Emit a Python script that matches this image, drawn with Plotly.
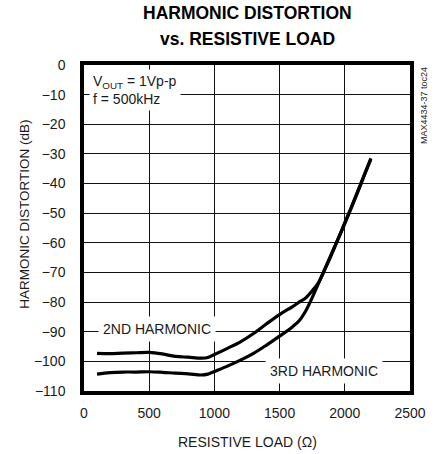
import plotly.graph_objects as go

# ---- data ----
load_x = [100, 200, 300, 400, 500, 600, 700, 800, 900, 950, 1000, 1100, 1200,
          1300, 1400, 1500, 1600, 1650, 1700, 1750, 1800, 1850, 1900, 1950,
          2000, 2050, 2100, 2150, 2200]
second_harm = [-97.3, -97.4, -97.2, -97.1, -97.0, -97.5, -98.3, -98.6, -98.9, -98.7,
               -97.7, -95.6, -93.4, -90.6, -87.3, -84.2, -81.5, -80.0, -78.6, -76.2,
               -73.3, -68.7, -63.8, -58.6, -53.5, -48.2, -42.8, -37.2, -31.8]
third_harm = [-104.3, -103.8, -103.6, -103.6, -103.5, -103.7, -104.0, -104.2, -104.6, -104.3,
              -103.4, -101.6, -99.6, -97.3, -94.5, -91.5, -88.3, -86.3, -83.0, -78.5,
              -73.5, -68.5, -63.5, -58.5, -53.2, -48.0, -42.5, -37.0, -31.5]
x_ticks = [0, 500, 1000, 1500, 2000, 2500]
y_ticks = [0, -10, -20, -30, -40, -50, -60, -70, -80, -90, -100, -110]

FONT = "Liberation Sans, Arial, sans-serif"
TXT = "#1a1a1a"

fig = go.Figure()
fig.add_trace(go.Scatter(x=load_x, y=second_harm, mode="lines",
                         line=dict(color="black", width=3.2, shape="spline"),
                         name="2ND HARMONIC", showlegend=False))
fig.add_trace(go.Scatter(x=load_x, y=third_harm, mode="lines",
                         line=dict(color="black", width=3.2, shape="spline"),
                         name="3RD HARMONIC", showlegend=False))

axis_common = dict(showline=True, linecolor="black", linewidth=3.5, mirror=True,
                   showgrid=True, gridcolor="#111111", gridwidth=1,
                   zeroline=False, ticks="outside", tickcolor="rgba(0,0,0,0)",
                   automargin=False,
                   tickfont=dict(family=FONT, size=14, color=TXT))

fig.update_xaxes(range=[0, 2500], tickvals=x_ticks, ticklen=6, **axis_common)
fig.update_yaxes(range=[-110, 0], tickvals=y_ticks, ticklen=12, **axis_common)

ann = []
# title lines
ann.append(dict(text="<b>HARMONIC DISTORTION</b>", xref="paper", yref="paper",
                x=0.5, y=1.16, xanchor="center", yanchor="middle", showarrow=False,
                font=dict(family=FONT, size=17.5, color="black")))
ann.append(dict(text="<b>vs. RESISTIVE LOAD</b>", xref="paper", yref="paper",
                x=0.5, y=1.08, xanchor="center", yanchor="middle", showarrow=False,
                font=dict(family=FONT, size=17.5, color="black")))
# axis titles
ann.append(dict(text="RESISTIVE LOAD (Ω)", xref="paper", yref="paper",
                x=0.5, y=-0.155, xanchor="center", yanchor="middle", showarrow=False,
                font=dict(family=FONT, size=14, color=TXT)))
ann.append(dict(text="HARMONIC DISTORTION (dB)", xref="paper", yref="paper",
                x=-0.181, y=0.544, xanchor="center", yanchor="middle", showarrow=False,
                textangle=-90, font=dict(family=FONT, size=13.5, color=TXT)))
# side code
ann.append(dict(text="MAX4434-37 toc24", xref="paper", yref="paper",
                x=1.043, y=0.874, xanchor="center", yanchor="middle", showarrow=False,
                textangle=-90, font=dict(family=FONT, size=9, color=TXT)))
# conditions box
ann.append(dict(text="V<sub>OUT</sub> = 1Vp-p<br>f = 500kHz", xref="x", yref="y",
                x=40, y=-8.3, xanchor="left", yanchor="middle", align="left",
                showarrow=False, bgcolor="white", borderpad=3,
                font=dict(family=FONT, size=14, color=TXT)))
# curve labels
ann.append(dict(text="2ND HARMONIC", xref="x", yref="y",
                x=560, y=-89.1, xanchor="center", yanchor="middle", showarrow=False,
                bgcolor="white", borderpad=4,
                font=dict(family=FONT, size=14, color=TXT)))
ann.append(dict(text="3RD HARMONIC", xref="x", yref="y",
                x=1837, y=-103.1, xanchor="center", yanchor="middle", showarrow=False,
                bgcolor="white", borderpad=4,
                font=dict(family=FONT, size=14, color=TXT)))

fig.update_layout(width=436, height=454,
                  margin=dict(l=84, r=26, t=65, b=63),
                  paper_bgcolor="white", plot_bgcolor="white",
                  annotations=ann, showlegend=False)

# remove the default 8px page margin so the figure fills the window exactly
fig.write_html("out.html",
               config={"displayModeBar": False},
               post_script="document.body.style.margin='0';document.body.style.overflow='hidden';")
